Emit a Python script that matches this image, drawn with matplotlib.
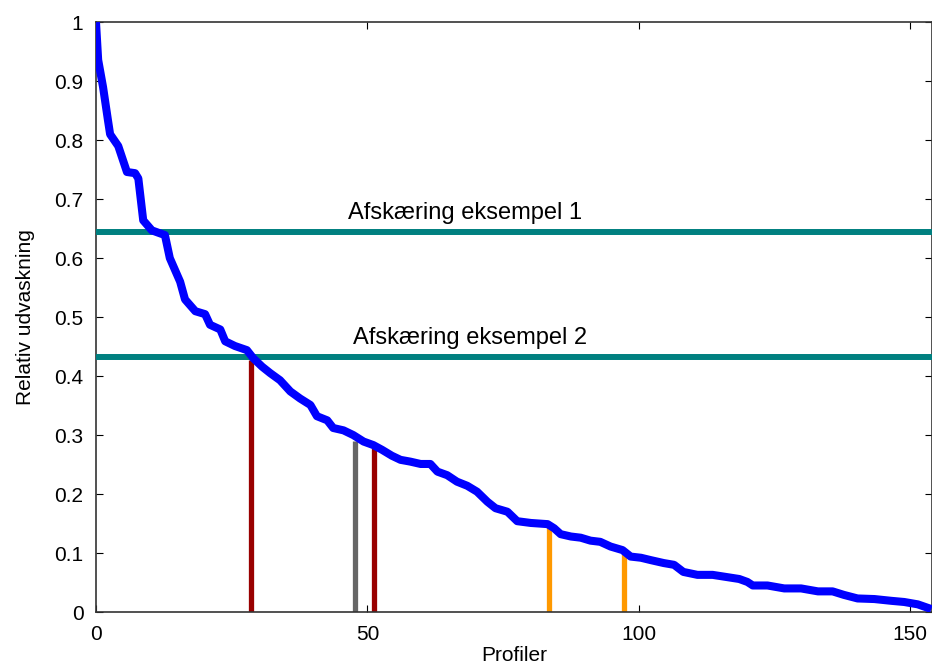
import matplotlib
matplotlib.use("Agg")
import matplotlib.pyplot as plt

plt.rcParams['font.family'] = ['Liberation Sans', 'DejaVu Sans']

# Curve: relative leaching per profile (sorted)
profile_x = [0, 0.4, 1.3, 2.2, 2.6, 4.1, 5.7, 7.2, 7.8, 8.7, 10.3, 12.7, 13.6, 15.5, 16.4,
             18.3, 20.1, 21.0, 22.9, 23.8, 25.6, 27.8, 29.0, 30.6, 32.1, 33.9, 35.8, 37.6,
             39.5, 40.7, 42.6, 43.7, 45.6, 47.4, 49.3, 51.1, 52.7, 54.5, 56.1, 57.9, 59.8,
             61.6, 62.9, 64.7, 66.5, 68.4, 70.2, 72.1, 73.6, 75.8, 77.6, 80.1, 83.2, 84.4,
             85.6, 87.5, 89.3, 91.1, 92.9, 94.8, 97.0, 98.5, 100.4, 102.2, 104.6, 106.5,
             108.2, 110.8, 113.6, 116.4, 118.5, 120.0, 121.0, 123.7, 126.8, 129.9, 133.0,
             135.7, 137.8, 140.3, 143.4, 146.5, 148.9, 151.4, 153.9]
leaching = [1.0, 0.936, 0.89, 0.834, 0.81, 0.79, 0.746, 0.744, 0.735, 0.664, 0.647, 0.639,
            0.60, 0.56, 0.53, 0.51, 0.505, 0.487, 0.479, 0.459, 0.451, 0.444, 0.43, 0.416,
            0.405, 0.393, 0.374, 0.362, 0.351, 0.332, 0.325, 0.312, 0.308, 0.30, 0.289,
            0.283, 0.275, 0.265, 0.258, 0.255, 0.251, 0.251, 0.238, 0.232, 0.221, 0.214,
            0.204, 0.187, 0.176, 0.170, 0.154, 0.151, 0.149, 0.142, 0.132, 0.128, 0.126,
            0.121, 0.119, 0.111, 0.105, 0.094, 0.092, 0.088, 0.083, 0.080, 0.068, 0.063,
            0.063, 0.059, 0.056, 0.051, 0.045, 0.045, 0.040, 0.040, 0.035, 0.035, 0.029,
            0.023, 0.022, 0.019, 0.017, 0.013, 0.005]

# Cut-off lines
cutoff_values = [0.644, 0.432]
cutoff_labels = ["Afskæring eksempel 1", "Afskæring eksempel 2"]
cutoff_label_x = [68.0, 69.0]

# Vertical marker lines
marker_x = [28.6, 47.8, 51.3, 83.5, 97.2]
marker_top = [0.427, 0.29, 0.28, 0.146, 0.102]
marker_colors = ["#990000", "#666666", "#990000", "#FF9900", "#FF9900"]

x_ticks = [0, 50, 100, 150]
y_ticks = [0, 0.1, 0.2, 0.3, 0.4, 0.5, 0.6, 0.7, 0.8, 0.9, 1]
y_ticklabels = ["0", "0.1", "0.2", "0.3", "0.4", "0.5", "0.6", "0.7", "0.8", "0.9", "1"]

fig = plt.figure(figsize=(9.32, 6.68), dpi=100)
ax = fig.add_axes([0.103, 0.0838, 0.8975, 0.883])

for xv, top, c in zip(marker_x, marker_top, marker_colors):
    ax.vlines(xv, 0, top, colors=c, linewidth=3.8, zorder=2)

for yv, lab, lx in zip(cutoff_values, cutoff_labels, cutoff_label_x):
    ax.axhline(yv, color="#008080", linewidth=4.3, zorder=3)
    ax.text(lx, yv + 0.014, lab, ha="center", va="bottom", fontsize=17)

ax.plot(profile_x, leaching, color="#0000FF", linewidth=5.8, zorder=4,
        solid_joinstyle="round", solid_capstyle="butt")

ax.set_xlim(0, 154.1)
ax.set_ylim(0, 1)
ax.set_xticks(x_ticks)
ax.set_xticklabels([str(t) for t in x_ticks])
ax.set_yticks(y_ticks)
ax.set_yticklabels(y_ticklabels)
ax.tick_params(direction="in", top=True, right=True, length=5, width=0.8,
               labelsize=15)
ax.tick_params(axis="x", pad=9)
ax.tick_params(axis="y", pad=9)
for s in ax.spines.values():
    s.set_color("#333333")
    s.set_linewidth(1.2)

ax.set_xlabel("Profiler", fontsize=15, labelpad=2)
ax.set_ylabel("Relativ udvaskning", fontsize=15, labelpad=14)

fig.savefig("out.png", dpi=100)
